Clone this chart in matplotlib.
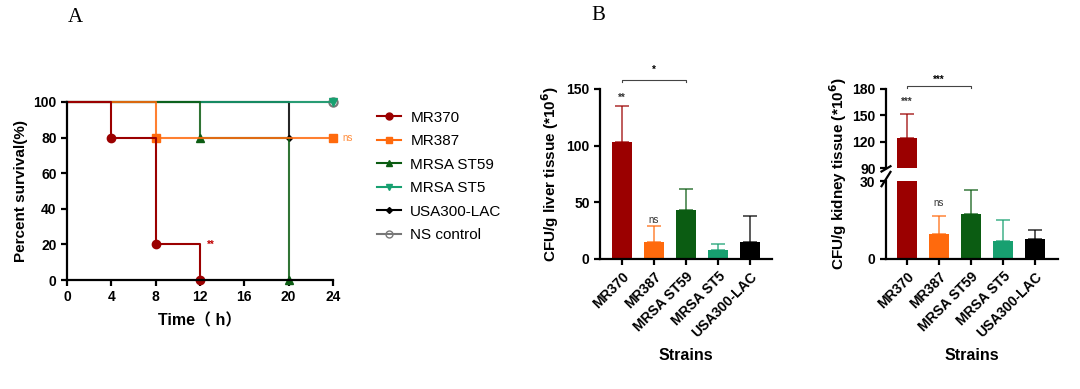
import numpy as np
import matplotlib.pyplot as plt
from matplotlib.lines import Line2D

plt.rcParams['font.family'] = ['Liberation Sans', 'Noto Sans CJK SC']
plt.rcParams['font.weight'] = 'bold'
plt.rcParams['axes.labelweight'] = 'bold'

# survival (step curves)
strains = ['MR370', 'MR387', 'MRSA ST59', 'MRSA ST5', 'USA300-LAC']
colors = ['#9b0000', '#ff6a0d', '#0b5c12', '#17a070', '#000000']
surv_t = {
    'MR370': [0, 4, 8, 12],
    'MR387': [0, 8, 24],
    'MRSA ST59': [0, 12, 20],
    'MRSA ST5': [0, 24],
    'USA300-LAC': [0, 20],
    'NS control': [0, 24],
}
surv_y = {
    'MR370': [100, 80, 20, 0],
    'MR387': [100, 80, 80],
    'MRSA ST59': [100, 80, 0],
    'MRSA ST5': [100, 100],
    'USA300-LAC': [100, 80],
    'NS control': [100, 100],
}
markers = {'MR370': 'o', 'MR387': 's', 'MRSA ST59': '^', 'MRSA ST5': 'v',
           'USA300-LAC': 'D', 'NS control': 'o'}

# bacterial load
liver_mean = [103, 15, 43, 8, 15]
liver_err = [32, 14, 19, 5, 23]
kidney_mean = [124, 9.5, 17.5, 7, 7.8]
kidney_err = [28, 7, 9, 8, 3.2]

fig = plt.figure(figsize=(10.8, 3.89), dpi=100)
W, H = 1080, 389


def ax_px(l, r, b, t):
    return fig.add_axes([l / W, 1 - b / H, (r - l) / W, (b - t) / H])


def style(ax):
    for s in ['top', 'right']:
        ax.spines[s].set_visible(False)
    for s in ['left', 'bottom']:
        ax.spines[s].set_linewidth(1.6)
    ax.tick_params(width=1.6, length=4, labelsize=10)


# ---------------- panel A
axA = ax_px(67, 333, 280, 102)
order = ['NS control', 'USA300-LAC', 'MRSA ST5', 'MRSA ST59', 'MR387', 'MR370']
col_map = dict(zip(strains, colors))
col_map['NS control'] = '#777777'
for name in order:
    t = surv_t[name]
    y = surv_y[name]
    c = col_map[name]
    axA.step(t, y, where='post', color=c, lw=1.5, alpha=0.85 if name != 'MR370' else 1, clip_on=False)
    mt, my = t[1:], y[1:]
    if name == 'NS control':
        axA.plot(mt, my, 'o', mfc='none', mec=c, ms=6, mew=1.5, clip_on=False)
    elif name == 'USA300-LAC':
        axA.plot(mt, my, 'D', color=c, ms=3, clip_on=False)
    else:
        axA.plot(mt, my, markers[name], color=c, ms=6, clip_on=False)
axA.set_xlim(0, 24)
axA.set_ylim(0, 100)
axA.set_xticks(range(0, 25, 4))
axA.set_yticks(range(0, 101, 20))
style(axA)
axA.set_ylabel('Percent survival(%)', fontsize=11)
axA.set_xlabel('Time（ h）', fontsize=11.5, labelpad=6)
axA.text(13, 20, '**', color='#c00000', fontsize=7, ha='center', va='center')
axA.text(25.3, 80, 'ns', color='#ff8c3a', fontsize=7, fontweight='normal',
         ha='center', va='center', clip_on=False)

handles = []
labels = strains + ['NS control']
for name in labels:
    c = col_map[name]
    if name == 'NS control':
        h = Line2D([], [], color=c, marker='o', mfc='none', mec=c, ms=5, lw=1.5)
    elif name == 'USA300-LAC':
        h = Line2D([], [], color=c, marker='D', ms=3, lw=1.5)
    else:
        h = Line2D([], [], color=c, marker=markers[name], ms=5, lw=1.5)
    handles.append(h)
fig.legend(handles, labels, loc='upper left', bbox_to_anchor=(363 / W, 1 - 97 / H),
           frameon=False, prop={'size': 11, 'weight': 'normal'}, labelspacing=0.62,
           handlelength=1.6, handletextpad=0.6)

fig.text(75 / W, 1 - 18 / H, 'A', fontsize=15, family='Liberation Serif',
         fontweight='normal', ha='center', va='center')
fig.text(598 / W, 1 - 15 / H, 'B', fontsize=15, family='Liberation Serif',
         fontweight='normal', ha='center', va='center')

x = np.arange(len(strains))


def bars(ax, mean, err):
    for i in range(len(strains)):
        ax.bar(x[i], mean[i], width=0.65, color=colors[i], zorder=2)
        ax.errorbar(x[i], mean[i], yerr=[[0], [err[i]]], color=colors[i], capsize=5,
                    elinewidth=1.2, capthick=1.2, zorder=1, alpha=0.75)


# ---------------- liver
axL = ax_px(600, 772, 259, 89)
bars(axL, liver_mean, liver_err)
axL.set_xlim(-0.69, 4.69)
axL.set_ylim(0, 150)
axL.set_yticks([0, 50, 100, 150])
axL.set_xticks(x)
axL.set_xticklabels(strains, rotation=45, ha='right', rotation_mode='anchor')
style(axL)
axL.set_ylabel('CFU/g liver tissue (*10$^\\mathbf{6}$)', fontsize=11, labelpad=4)
axL.set_xlabel('Strains', fontsize=11.5, labelpad=6)
axL.text(0, 142, '**', fontsize=7, ha='center', va='center', color='#333333')
axL.text(1, 34, 'ns', fontsize=7, fontweight='normal', ha='center', va='center', color='#333333')
axL.plot([0, 0, 2, 2], [156, 158, 158, 156], color='#444444', lw=0.8, clip_on=False)
axL.text(1, 167, '*', fontsize=7, ha='center', va='center', clip_on=False)

# ---------------- kidney (broken axis)
axK1 = ax_px(886, 1058, 259, 181)
axK2 = ax_px(886, 1058, 168, 89)
for ax in (axK1, axK2):
    bars(ax, kidney_mean, kidney_err)
    ax.set_xlim(-0.66, 4.72)
axK1.set_ylim(0, 30)
axK1.set_yticks([0, 30])
axK2.set_ylim(90, 180)
axK2.set_yticks([90, 120, 150, 180])
axK1.set_xticks(x)
axK1.set_xticklabels(strains, rotation=45, ha='right', rotation_mode='anchor')
style(axK1)
style(axK2)
axK2.spines['bottom'].set_visible(False)
axK2.set_xticks([])
d = dict(color='black', lw=1.6, clip_on=False)
axK1.plot([-0.8, -0.52], [28, 33.5], **d)
axK2.plot([-0.8, -0.52], [86, 92], **d)
axK1.set_xlabel('Strains', fontsize=11.5, labelpad=6)
fig.text(838 / W, 1 - 174 / H, 'CFU/g kidney tissue (*10$^\\mathbf{6}$)', fontsize=11,
         rotation=90, ha='center', va='center')
axK2.text(0, 165, '***', fontsize=7, ha='center', va='center', color='#333333')
axK1.text(1, 21.5, 'ns', fontsize=7, fontweight='normal', ha='center', va='center', color='#333333')
axK2.plot([0, 0, 2, 2], [181, 183, 183, 181], color='#444444', lw=0.8, clip_on=False)
axK2.text(1, 190, '***', fontsize=7, ha='center', va='center', clip_on=False)

fig.savefig('out.png', dpi=100)
